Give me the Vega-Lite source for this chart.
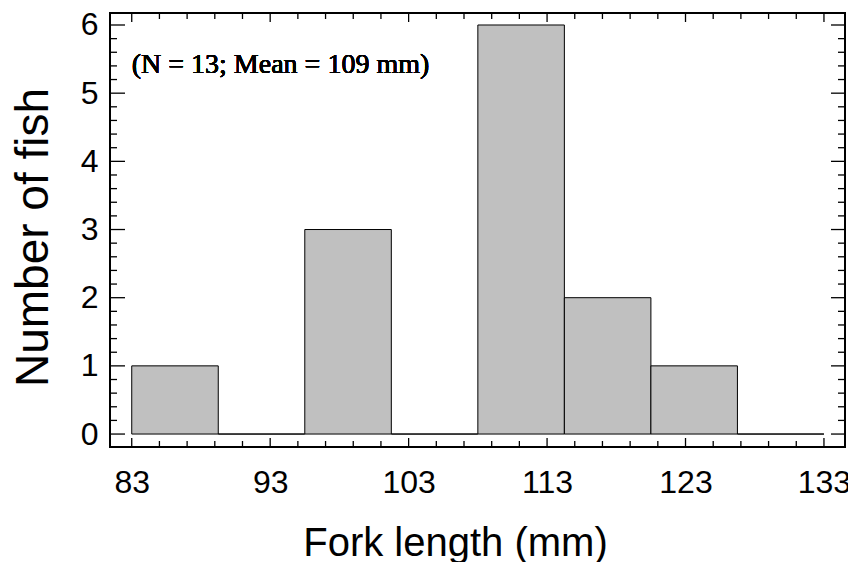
{
  "$schema": "https://vega.github.io/schema/vega-lite/v6.json",
  "width": 735,
  "height": 434,
  "autosize": "none",
  "padding": {"left": 110, "top": 13, "right": 3, "bottom": 115},
  "background": "white",
  "config": {
    "view": {"stroke": "black", "strokeWidth": 2},
    "axis": {
      "domain": false,
      "grid": false,
      "ticks": false,
      "tickSize": 0,
      "labelFont": "Liberation Sans",
      "labelFontSize": 32,
      "labelColor": "black",
      "labelFlush": false,
      "labelOverlap": false,
      "titleFont": "Liberation Sans",
      "titleFontSize": 40,
      "titleFontWeight": "normal",
      "titleColor": "black"
    }
  },
  "datasets": {
    "hist": [
      {"bin_start": 83, "bin_end": 89.25, "count": 1},
      {"bin_start": 89.25, "bin_end": 95.5, "count": 0},
      {"bin_start": 95.5, "bin_end": 101.75, "count": 3},
      {"bin_start": 101.75, "bin_end": 108, "count": 0},
      {"bin_start": 108, "bin_end": 114.25, "count": 6},
      {"bin_start": 114.25, "bin_end": 120.5, "count": 2},
      {"bin_start": 120.5, "bin_end": 126.75, "count": 1},
      {"bin_start": 126.75, "bin_end": 133, "count": 0}
    ],
    "xmajor": [{"v": 83}, {"v": 93}, {"v": 103}, {"v": 113}, {"v": 123}, {"v": 133}],
    "xminor": [{"v": 85}, {"v": 87}, {"v": 89}, {"v": 91}, {"v": 95}, {"v": 97}, {"v": 99}, {"v": 101}, {"v": 105}, {"v": 107}, {"v": 109}, {"v": 111}, {"v": 115}, {"v": 117}, {"v": 119}, {"v": 121}, {"v": 125}, {"v": 127}, {"v": 129}, {"v": 131}],
    "ymajor": [{"v": 0}, {"v": 1}, {"v": 2}, {"v": 3}, {"v": 4}, {"v": 5}, {"v": 6}],
    "yminor": [{"v": 0.2}, {"v": 0.4}, {"v": 0.6}, {"v": 0.8}, {"v": 1.2}, {"v": 1.4}, {"v": 1.6}, {"v": 1.8}, {"v": 2.2}, {"v": 2.4}, {"v": 2.6}, {"v": 2.8}, {"v": 3.2}, {"v": 3.4}, {"v": 3.6}, {"v": 3.8}, {"v": 4.2}, {"v": 4.4}, {"v": 4.6}, {"v": 4.8}, {"v": 5.2}, {"v": 5.4}, {"v": 5.6}, {"v": 5.8}]
  },
  "layer": [
    {
      "data": {"name": "hist"},
      "mark": {"type": "bar", "fill": "#c0c0c0", "stroke": "black", "strokeWidth": 1},
      "encoding": {
        "x": {
          "field": "bin_start",
          "type": "quantitative",
          "scale": {"domain": [81.43, 134.52], "nice": false, "zero": false},
          "axis": {
            "orient": "bottom",
            "values": [83, 93, 103, 113, 123, 133],
            "format": "d",
            "labelPadding": 45,
            "labelBaseline": "alphabetic",
            "title": "Fork length (mm)",
            "titleX": 345,
            "titleY": 108,
            "titleBaseline": "alphabetic"
          }
        },
        "x2": {"field": "bin_end"},
        "y": {
          "field": "count",
          "type": "quantitative",
          "scale": {"domain": [-0.19, 6.176], "nice": false, "zero": false},
          "axis": {
            "orient": "left",
            "values": [0, 1, 2, 3, 4, 5, 6],
            "format": "d",
            "labelPadding": 12,
            "labelBaseline": "middle",
            "title": "Number of fish",
            "titleFontSize": 46,
            "titleX": -63,
            "titleY": 224,
            "titleAngle": -90,
            "titleBaseline": "alphabetic"
          }
        },
        "y2": {"datum": 0}
      }
    },
    {
      "data": {"name": "xmajor"},
      "mark": {"type": "tick", "orient": "vertical", "size": 18, "thickness": 1.3, "color": "black", "opacity": 1, "clip": true},
      "encoding": {
        "x": {"field": "v", "type": "quantitative"},
        "y": {"datum": -0.19, "type": "quantitative"}
      }
    },
    {
      "data": {"name": "xmajor"},
      "mark": {"type": "tick", "orient": "vertical", "size": 18, "thickness": 1.3, "color": "black", "opacity": 1, "clip": true},
      "encoding": {
        "x": {"field": "v", "type": "quantitative"},
        "y": {"datum": 6.176, "type": "quantitative"}
      }
    },
    {
      "data": {"name": "xminor"},
      "mark": {"type": "tick", "orient": "vertical", "size": 12, "thickness": 1.3, "color": "black", "opacity": 1, "clip": true},
      "encoding": {
        "x": {"field": "v", "type": "quantitative"},
        "y": {"datum": -0.19, "type": "quantitative"}
      }
    },
    {
      "data": {"name": "xminor"},
      "mark": {"type": "tick", "orient": "vertical", "size": 12, "thickness": 1.3, "color": "black", "opacity": 1, "clip": true},
      "encoding": {
        "x": {"field": "v", "type": "quantitative"},
        "y": {"datum": 6.176, "type": "quantitative"}
      }
    },
    {
      "data": {"name": "ymajor"},
      "mark": {"type": "tick", "orient": "horizontal", "size": 30, "thickness": 1.3, "color": "black", "opacity": 1, "clip": true},
      "encoding": {
        "y": {"field": "v", "type": "quantitative"},
        "x": {"datum": 81.43, "type": "quantitative"}
      }
    },
    {
      "data": {"name": "ymajor"},
      "mark": {"type": "tick", "orient": "horizontal", "size": 28, "thickness": 1.3, "color": "black", "opacity": 1, "clip": true},
      "encoding": {
        "y": {"field": "v", "type": "quantitative"},
        "x": {"datum": 134.52, "type": "quantitative"}
      }
    },
    {
      "data": {"name": "yminor"},
      "mark": {"type": "tick", "orient": "horizontal", "size": 14, "thickness": 1.3, "color": "black", "opacity": 1, "clip": true},
      "encoding": {
        "y": {"field": "v", "type": "quantitative"},
        "x": {"datum": 81.43, "type": "quantitative"}
      }
    },
    {
      "data": {"name": "yminor"},
      "mark": {"type": "tick", "orient": "horizontal", "size": 14, "thickness": 1.3, "color": "black", "opacity": 1, "clip": true},
      "encoding": {
        "y": {"field": "v", "type": "quantitative"},
        "x": {"datum": 134.52, "type": "quantitative"}
      }
    },
    {
      "data": {"name": "hist"},
      "mark": {"type": "text", "font": "Liberation Serif", "fontSize": 28, "fontWeight": "normal", "align": "left", "baseline": "alphabetic", "color": "black"},
      "encoding": {
        "x": {"datum": 83, "type": "quantitative"},
        "y": {"datum": 5.296, "type": "quantitative"},
        "text": {"value": "(N = 13; Mean = 109 mm)"}
      }
    }
  ]
}
